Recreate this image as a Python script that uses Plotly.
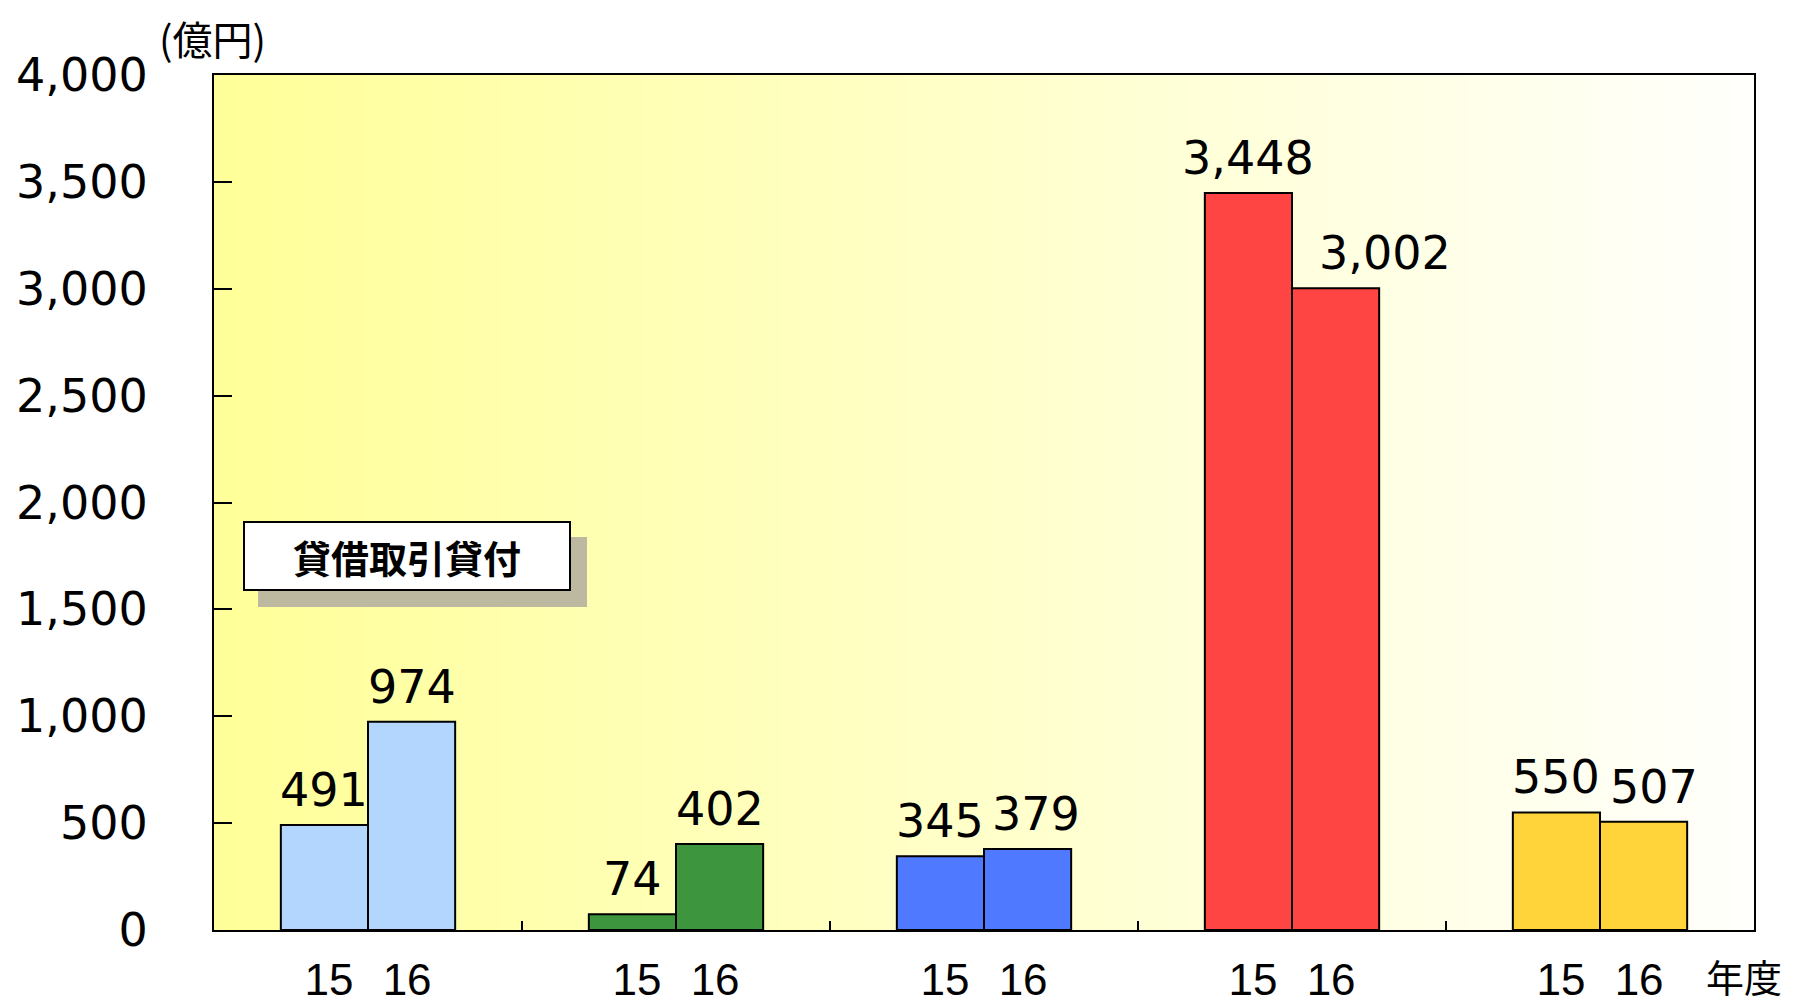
import plotly.graph_objects as go

# values (億円)
groups = [0, 1, 2, 3, 4]
fy15 = [491, 74, 345, 3448, 550]
fy16 = [974, 402, 379, 3002, 507]
year_labels = ['15', '16']
group_colors = ['#b3d6ff', '#3d963d', '#4f79ff', '#ff4444', '#ffd43a']
y_ticks = [0, 500, 1000, 1500, 2000, 2500, 3000, 3500, 4000]

BAR_W = 0.283
NUM_FONT = 'DejaVu Sans'
JP_FONT = 'Noto Sans CJK JP'
# a few value labels sit off-centre in the original
label_nudge = {(2, 1): 8, (3, 1): 49, (4, 1): 10}

fig = go.Figure()

# yellow-to-white background of the plot area
fig.add_trace(go.Heatmap(
    x=[-0.5, 4.5],
    y=[0, 4000],
    z=[[0, 1], [0, 1]],
    zsmooth='best',
    colorscale=[[0, '#ffff99'], [1, '#fffffc']],
    showscale=False,
    hoverinfo='skip',
))

for k, (vals, offset) in enumerate([(fy15, -BAR_W), (fy16, 0)]):
    fig.add_trace(go.Bar(
        x=groups,
        y=vals,
        width=BAR_W,
        offset=offset,
        marker={'color': group_colors, 'line': {'color': 'black', 'width': 2}},
        showlegend=False,
    ))
    for g, v in zip(groups, vals):
        fig.add_annotation(
            x=g + offset + BAR_W / 2, y=v, text=f'{v:,}',
            xanchor='center', yanchor='bottom', showarrow=False,
            xshift=label_nudge.get((g, k), 0), yshift=6,
            font={'family': NUM_FONT, 'size': 46, 'color': 'black'},
        )

# year labels sit a little closer together than the bar centres
label_x = [g + d for g in groups for d in (-0.127, 0.127)]

# the page adds an 8px body margin, so the figure is sized to fit inside it
fig.update_layout(
    width=1778,
    height=995,
    margin={'l': 206, 'r': 32, 't': 67, 'b': 73},
    paper_bgcolor='white',
    plot_bgcolor='white',
    barmode='overlay',
    xaxis={
        'range': [-0.5, 4.5],
        'automargin': False,
        'tickvals': label_x,
        'ticktext': year_labels * len(groups),
        'ticks': '',
        'ticklabelstandoff': 10,
        'tickfont': {'family': 'Liberation Sans', 'size': 44, 'color': 'black'},
        'minor': {'tickvals': [0.5, 1.5, 2.5, 3.5], 'ticks': 'inside',
                  'ticklen': 9, 'tickwidth': 2, 'tickcolor': 'black'},
        'showline': True, 'linecolor': 'black', 'linewidth': 2, 'mirror': True,
        'showgrid': False, 'zeroline': False,
    },
    yaxis={
        'range': [0, 4000],
        'automargin': False,
        'tickvals': y_ticks,
        'tickformat': ',',
        'ticks': 'inside',
        'ticklen': 18,
        'tickwidth': 2,
        'tickcolor': 'black',
        'ticklabelstandoff': 55,
        'tickfont': {'family': NUM_FONT, 'size': 46, 'color': 'black'},
        'showline': True, 'linecolor': 'black', 'linewidth': 2, 'mirror': True,
        'showgrid': False, 'zeroline': False,
    },
    font={'family': JP_FONT},
)

# textured shadow behind the title box
fig.add_shape(type='rect', xref='paper', yref='paper',
              x0=0.0286, x1=0.2422, y0=0.3778, y1=0.4596,
              fillcolor='#bdb8a0', line={'width': 0}, layer='above')

fig.add_annotation(
    text='<b>貸借取引貸付</b>', xref='paper', yref='paper', x=0.125, y=0.4374,
    xanchor='center', yanchor='middle',
    showarrow=False, font={'family': JP_FONT, 'size': 38, 'color': 'black'},
    bgcolor='white', bordercolor='black', borderwidth=2, width=322, height=64,
)
fig.add_annotation(
    text='(億円)', xref='paper', yref='paper', x=0.0, y=1.0, xshift=-2, yshift=37,
    xanchor='center', yanchor='middle', showarrow=False,
    font={'family': JP_FONT, 'size': 40, 'color': 'black'},
)
fig.add_annotation(
    text='年度', xref='paper', yref='paper', x=1.0, y=0.0, xshift=-10, yshift=-45,
    xanchor='center', yanchor='middle', showarrow=False,
    font={'family': JP_FONT, 'size': 38, 'color': 'black'},
)

fig.write_html('out.html')
